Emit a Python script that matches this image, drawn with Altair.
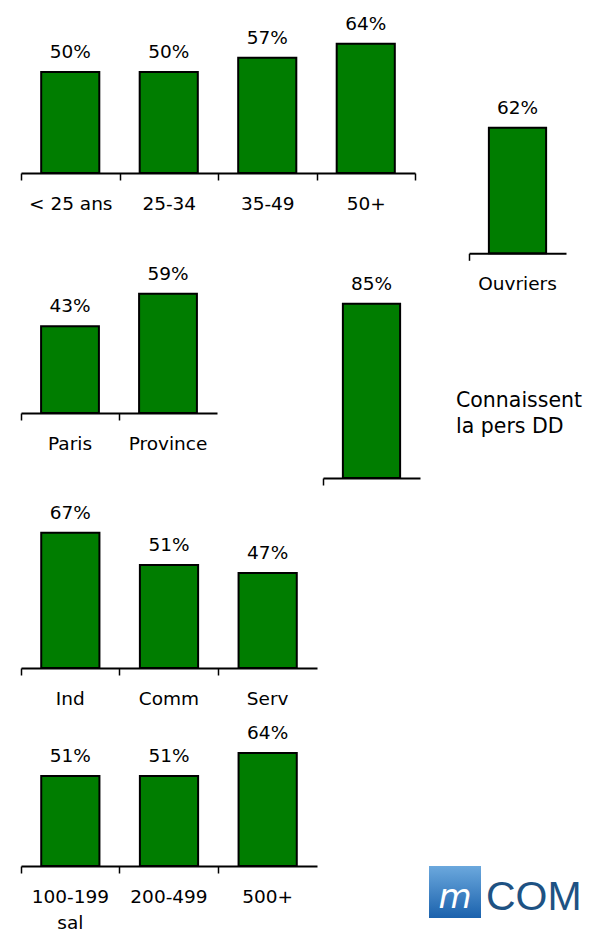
import altair as alt
import pandas as pd

FONT = "DejaVu Sans"
GREEN = "#007D00"

age_cats = ["< 25 ans", "25-34", "35-49", "50+"]
age_vals = [50, 50, 57, 64]
ouv_cats = ["Ouvriers"]
ouv_vals = [62]
reg_cats = ["Paris", "Province"]
reg_vals = [43, 59]
dd_cats = ["Connaissent la pers DD"]
dd_vals = [85]
dd_label = ["Connaissent", "la pers DD"]
sect_cats = ["Ind", "Comm", "Serv"]
sect_vals = [67, 51, 47]
size_cats = ["100-199 sal", "200-499", "500+"]
size_vals = [51, 51, 64]

W, H = 575, 923


def group(cats, vals, x0, x1, axis_y, k, end_tick=False, labels=True):
    df = pd.DataFrame({"cat": cats, "val": vals, "lab": [f"{v}%" for v in vals]})
    axis_kw = dict(
        orient="bottom", offset=axis_y - H, title=None,
        domainColor="black", domainWidth=2,
        tickColor="black", tickWidth=1.5, tickSize=7,
        labels=labels, labelFont=FONT, labelFontSize=18.5, labelColor="black",
        labelPadding=14, labelAngle=0, labelLineHeight=26,
        labelExpr="indexof(datum.label, ' sal') > 0 ? [replace(datum.label, ' sal', ''), 'sal'] : datum.label",
        grid=False,
    )
    if end_tick:
        axis_kw["tickBand"] = "extent"
    else:
        axis_kw["bandPosition"] = 0
    base = alt.Chart(df).encode(
        x=alt.X("cat:N", sort=cats,
                scale=alt.Scale(range=[x0, x1], paddingInner=0, paddingOuter=0),
                axis=alt.Axis(**axis_kw)),
        y=alt.Y("val:Q", scale=alt.Scale(domain=[0, 100], range=[axis_y, axis_y - 100 * k]),
                axis=None),
    )
    bars = base.mark_bar(width=alt.RelativeBandSize(0.59), color=GREEN,
                         stroke="black", strokeWidth=2)
    text = base.mark_text(dy=-14, baseline="alphabetic", font=FONT, fontSize=18.5,
                          color="black").encode(text="lab:N")
    return alt.layer(bars, text)


g_age = group(age_cats, age_vals, 13, 407, 165, 2.02, end_tick=True)
g_ouv = group(ouv_cats, ouv_vals, 461, 558, 245.3, 2.025)
g_reg = group(reg_cats, reg_vals, 13, 209, 405, 2.02)
g_dd = group(dd_cats, dd_vals, 315, 412, 470, 2.05, labels=False)
g_sect = group(sect_cats, sect_vals, 13, 309, 660, 2.02)
g_size = group(size_cats, size_vals, 13, 309, 858, 1.765)

one = pd.DataFrame({"t": [0]})
conn = alt.Chart(one).mark_text(
    align="left", baseline="alphabetic", font=FONT, fontSize=20.5, lineHeight=26.5,
    color="black"
).encode(x=alt.value(448), y=alt.value(398.7), text=alt.value(dd_label))

logo_box = alt.Chart(one).mark_rect(
    color=alt.LinearGradient(
        gradient="linear", x1=0, y1=0, x2=0, y2=1,
        stops=[alt.GradientStop(color="#6BA8DD", offset=0),
               alt.GradientStop(color="#1B62AD", offset=1)],
    )
).encode(x=alt.value(421), x2=alt.value(473), y=alt.value(858), y2=alt.value(910))
logo_m = alt.Chart(one).mark_text(
    font=FONT, fontSize=34, fontStyle="italic", color="white", baseline="alphabetic"
).encode(x=alt.value(447), y=alt.value(900), text=alt.value("m"))
logo_txt = alt.Chart(one).mark_text(
    font="Liberation Sans", fontSize=41, color="#1E5283", align="left",
    baseline="alphabetic"
).encode(x=alt.value(478), y=alt.value(902), text=alt.value("COM"))

chart = alt.layer(
    g_age, g_ouv, g_reg, g_dd, g_sect, g_size, conn, logo_box, logo_m, logo_txt
).resolve_scale(x="independent", y="independent").properties(
    width=W, height=H, padding=0, autosize="none", background="white"
).configure_view(stroke=None)

chart.save("out.html", embed_options={"renderer": "svg", "actions": False})
